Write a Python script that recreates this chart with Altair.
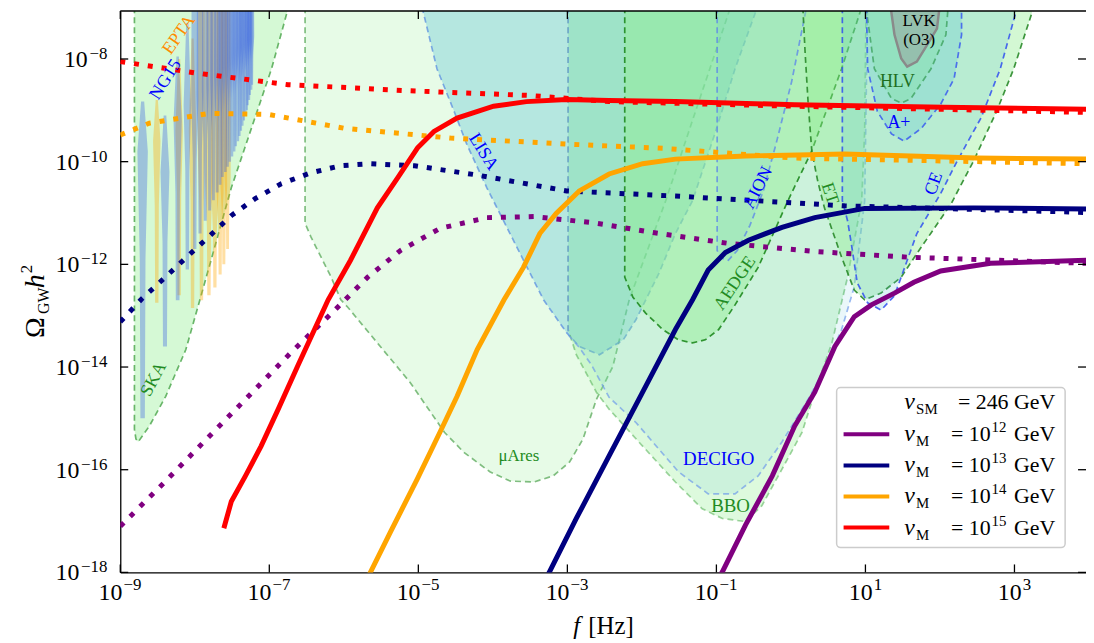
import altair as alt
import pandas as pd

FONT = "Liberation Serif"
X_LO, X_HI = -9.0, 3.96
Y_LO, Y_HI = -18.0, -7.066
W, H = 972, 565

x_tick_exps = [-9, -7, -5, -3, -1, 1, 3]
y_tick_exps = [-18, -16, -14, -12, -10, -8]

# ---------------- curves (log10 f, log10 Omega h^2) ----------------
red_solid_lf = [-7.61, -7.51, -7.32, -7.11, -6.88, -6.61, -6.21, -5.91, -5.55, -5.28, -5.01, -4.79, -4.48, -3.99, -3.55, -3.01, -2.44, -1.55, 0.05, 2.05, 3.97]
red_solid_lo = [-17.14, -16.62, -16.12, -15.54, -14.82, -13.95, -12.69, -11.92, -10.90, -10.32, -9.73, -9.41, -9.15, -8.92, -8.83, -8.79, -8.81, -8.83, -8.89, -8.94, -8.98]
red_dot_lf = [-9.0, -7.95, -6.75, -5.11, -3.51, -2.44, 0.05, 3.97]
red_dot_lo = [-8.05, -8.28, -8.50, -8.62, -8.71, -8.83, -8.92, -9.04]

orange_solid_lf = [-5.75, -5.64, -5.37, -5.01, -4.71, -4.48, -4.21, -3.85, -3.59, -3.37, -3.15, -2.84, -2.44, -1.99, -1.55, -0.61, 0.72, 2.49, 3.97]
orange_solid_lo = [-18.3, -17.99, -17.20, -16.17, -15.27, -14.57, -13.66, -12.69, -12.06, -11.40, -11.01, -10.57, -10.24, -10.04, -9.95, -9.89, -9.85, -9.93, -9.95]
orange_dot_lf = [-9.0, -8.61, -7.81, -7.01, -5.99, -4.57, -2.97, -1.72, 0.05, 3.97]
orange_dot_lo = [-9.48, -9.25, -9.06, -9.08, -9.35, -9.54, -9.66, -9.74, -9.93, -10.04]

navy_solid_lf = [-3.35, -3.24, -2.88, -2.44, -1.99, -1.55, -1.32, -1.11, -0.88, -0.57, -0.12, 0.32, 0.99, 2.45, 3.97]
navy_solid_lo = [-18.3, -17.99, -16.95, -15.73, -14.49, -13.27, -12.69, -12.11, -11.77, -11.53, -11.28, -11.09, -10.91, -10.90, -10.92]
navy_dot_lf = [-9.0, -8.71, -8.41, -8.11, -7.81, -7.51, -7.19, -6.84, -6.45, -6.05, -5.65, -5.05, -4.21, -3.01, -1.55, 0.72, 3.97]
navy_dot_lo = [-13.12, -12.67, -12.27, -11.86, -11.46, -11.05, -10.72, -10.43, -10.22, -10.08, -10.04, -10.08, -10.26, -10.57, -10.67, -10.86, -10.99]

purple_solid_lf = [-1.05, -0.92, -0.61, -0.25, 0.05, 0.32, 0.59, 0.85, 1.08, 1.39, 1.65, 2.01, 2.68, 3.97]
purple_solid_lo = [-18.3, -17.99, -17.08, -16.12, -15.15, -14.49, -13.60, -13.02, -12.79, -12.56, -12.35, -12.13, -11.98, -11.92]
purple_dot_lf = [-9.0, -8.41, -7.84, -7.28, -6.71, -6.12, -5.68, -5.24, -4.71, -4.08, -3.45, -2.65, -1.85, -0.85, 0.32, 1.56, 3.97]
purple_dot_lo = [-17.10, -16.25, -15.40, -14.57, -13.72, -12.89, -12.25, -11.73, -11.30, -11.09, -11.07, -11.19, -11.38, -11.59, -11.75, -11.86, -11.98]

# ---------------- sensitivity regions ----------------
ska_lf = [-8.81, -8.81, -8.79, -8.76, -8.61, -8.39, -8.12, -7.77, -7.51, -7.24, -6.97, -6.75, -6.70]
ska_lo = [-6.8, -15.21, -15.40, -15.46, -15.15, -14.57, -13.66, -11.86, -10.51, -9.35, -8.19, -7.03, -6.8]
mu_lf = [-6.52, -6.52, -6.44, -6.17, -6.04, -5.95, -5.55, -5.11, -4.65, -4.39, -4.04, -3.77, -3.45, -3.19, -2.97, -2.79, -2.61, -2.39, -2.17, -1.68, -1.28, -0.81, -0.76]
mu_lo = [-6.8, -11.20, -11.47, -12.25, -12.69, -12.83, -13.53, -14.30, -15.27, -15.66, -16.04, -16.22, -16.24, -16.12, -15.85, -15.40, -14.63, -13.99, -12.69, -10.76, -9.02, -6.99, -6.8]
lisa_lf = [-4.97, -4.95, -4.75, -4.52, -4.35, -4.08, -3.77, -3.32, -3.01, -2.84, -2.57, -2.25, -2.08, -1.77, -1.55, -1.32, -1.01, -0.75, -0.45, -0.42]
lisa_lo = [-6.8, -6.99, -8.19, -9.02, -9.66, -10.51, -11.40, -12.69, -13.33, -13.60, -13.76, -13.47, -13.08, -12.17, -11.40, -10.76, -9.41, -8.19, -6.99, -6.8]
bbo_lf = [-2.99, -2.99, -2.88, -2.61, -2.44, -1.99, -1.55, -1.19, -0.92, -0.61, -0.39, -0.12, 0.15, 0.32, 0.55, 0.76, 0.95, 0.99, 1.01]
bbo_lo = [-6.8, -13.27, -13.76, -14.49, -14.82, -15.54, -16.24, -16.76, -16.95, -17.01, -16.70, -15.99, -15.27, -14.49, -13.53, -12.25, -10.76, -9.41, -6.8]
decigo_lf = [-2.99, -2.99, -2.84, -2.68, -2.44, -2.08, -1.51, -1.11, -0.75, -0.44, -0.12, 0.23, 0.45, 0.68, 0.85, 0.99, 1.03]
decigo_lo = [-6.8, -13.37, -13.62, -13.95, -14.59, -15.08, -16.04, -16.47, -16.47, -16.12, -15.46, -14.63, -14.05, -13.27, -12.44, -10.76, -6.8]
aedge_lf = [-2.23, -2.23, -2.12, -1.95, -1.72, -1.51, -1.32, -1.15, -0.97, -0.75, -0.44, -0.04, 0.28, 0.68, 0.95, 0.97]
aedge_lo = [-6.8, -12.25, -12.64, -12.95, -13.27, -13.47, -13.53, -13.47, -13.27, -12.79, -12.06, -10.76, -9.79, -8.19, -6.99, -6.8]
aion_lf = [-0.99, -0.99, -0.93, -0.84, -0.72, -0.55, -0.37, -0.19, 0.01, 0.21, 0.23]
aion_lo = [-6.8, -11.73, -11.88, -11.92, -11.73, -11.24, -10.57, -9.60, -8.44, -6.99, -6.8]
et_lf = [0.16, 0.16, 0.19, 0.23, 0.28, 0.36, 0.45, 0.68, 0.85, 0.99, 1.21, 1.48, 1.69, 2.15, 2.45, 2.76, 2.99, 3.25, 3.27]
et_lo = [-6.8, -6.99, -7.86, -8.83, -9.79, -10.38, -10.90, -11.86, -12.50, -12.69, -12.56, -12.25, -11.79, -10.82, -9.99, -9.02, -8.19, -7.03, -6.8]
ce_lf = [0.69, 0.69, 0.76, 0.81, 0.89, 1.03, 1.21, 1.39, 1.69, 2.01, 2.23, 2.55, 2.81, 3.03, 3.05]
ce_lo = [-6.8, -10.76, -11.15, -11.59, -12.36, -12.75, -12.89, -12.61, -11.40, -10.62, -9.99, -9.15, -8.19, -7.03, -6.8]
aplus_lf = [1.01, 1.03, 1.16, 1.35, 1.52, 1.75, 2.01, 2.19, 2.29, 2.29]
aplus_lo = [-6.8, -8.19, -9.02, -9.46, -9.60, -9.35, -8.88, -8.38, -7.53, -6.8]
hlv_lf = [0.99, 1.12, 1.35, 1.48, 1.61, 1.88, 2.08, 2.12]
hlv_lo = [-6.8, -8.19, -8.77, -8.86, -8.77, -8.19, -7.53, -6.8]
lvk_lf = [1.32, 1.39, 1.48, 1.56, 1.69, 1.83, 1.96, 2.01]
lvk_lo = [-6.8, -7.53, -7.99, -8.15, -8.05, -7.72, -7.41, -6.8]

# ---------------- PTA violins ----------------
ng_lf = [-8.70, -8.40, -8.23, -8.10, -8.00, -7.93, -7.86, -7.80, -7.75, -7.70, -7.66, -7.63, -7.59, -7.56, -7.53,
         -7.50, -7.47, -7.45, -7.42, -7.40, -7.38, -7.36, -7.34, -7.32, -7.30, -7.29, -7.27, -7.26, -7.24, -7.23]
ng_top = [-8.83, -9.10, -7.95, -7.30, -6.8, -6.8, -6.8, -6.8, -6.8, -6.8, -6.8, -6.8, -6.8, -6.8, -6.8,
          -6.8, -6.8, -6.8, -6.8, -6.8, -6.8, -6.8, -6.8, -6.8, -6.8, -6.8, -6.8, -6.8, -6.8, -6.8]
ng_peak = [-9.80, -10.20, -9.20, -8.90, -8.80, -8.70, -8.60, -8.50, -8.40, -8.30, -8.25, -8.20, -8.15, -8.10, -8.05,
           -8.00, -7.95, -7.90, -7.85, -7.80, -7.80, -7.75, -7.75, -7.70, -7.70, -7.65, -7.65, -7.60, -7.60, -7.55]
ng_bot = [-15.0, -13.6, -12.7, -12.1, -11.7, -11.4, -11.15, -10.95, -10.75, -10.6, -10.45, -10.3, -10.2, -10.1, -10.0,
          -9.9, -9.8, -9.7, -9.6, -9.5, -9.4, -9.3, -9.2, -9.1, -9.0, -8.9, -8.8, -8.7, -8.6, -8.5]
ng_w = [0.07, 0.06, 0.055, 0.05, 0.048, 0.046, 0.045, 0.044, 0.043, 0.042, 0.041, 0.04, 0.039, 0.038, 0.037,
        0.036, 0.035, 0.034, 0.034, 0.033, 0.032, 0.032, 0.031, 0.031, 0.03, 0.03, 0.029, 0.029, 0.028, 0.028]

ep_lf = [-8.51, -8.21, -8.03, -7.91, -7.81, -7.73, -7.66, -7.61, -7.56]
ep_top = [-8.80, -8.00, -7.60, -6.8, -6.8, -6.8, -6.8, -6.8, -6.8]
ep_peak = [-9.60, -9.40, -9.40, -9.80, -10.40, -10.60, -10.60, -10.50, -10.30]
ep_bot = [-12.75, -12.60, -12.85, -12.70, -12.60, -12.45, -12.20, -12.00, -11.70]
ep_w = [0.05, 0.05, 0.05, 0.05, 0.05, 0.048, 0.046, 0.044, 0.042]

# ---------------- legend ----------------
leg_colors = ["#800080", "#000080", "#FFA500", "#FF0000"]
leg_exps = ["12", "13", "14", "15"]

# ==========================================================================
xscale = alt.Scale(type="log", domain=[10 ** X_LO, 10 ** X_HI], nice=False)
yscale = alt.Scale(type="log", domain=[10 ** Y_LO, 10 ** Y_HI], nice=False)
xaxis = alt.Axis(values=[10.0 ** e for e in x_tick_exps], labels=False, ticks=False, grid=False,
                 domainColor="black", domainWidth=1.3, title=None)
yaxis = alt.Axis(values=[10.0 ** e for e in y_tick_exps], labels=False, ticks=False, grid=False,
                 domainColor="black", domainWidth=1.3, title=None)


def X(field="f"):
    return alt.X(field + ":Q", scale=xscale, axis=xaxis)


def Y(field="o"):
    return alt.Y(field + ":Q", scale=yscale, axis=yaxis)


def pts_df(lf, lo):
    return pd.DataFrame({"i": list(range(len(lf))), "f": [10 ** v for v in lf], "o": [10 ** v for v in lo]})


layers = []

G = "#90EE90"
B = "#50BED2"
regions = [
    (ska_lf, ska_lo, G, 0.38, "#3E9E3E", 0.75),
    (mu_lf, mu_lo, G, 0.22, "#4FA34F", 0.7),
    (lisa_lf, lisa_lo, B, 0.33, "#5B8FE0", 0.75),
    (bbo_lf, bbo_lo, G, 0.3, "#5DB55D", 0.6),
    (decigo_lf, decigo_lo, B, 0.12, "#6F9BEA", 0.7),
    (aedge_lf, aedge_lo, G, 0.45, "#1F8A1F", 0.9),
    (aion_lf, aion_lo, B, 0.12, "#5F8AE8", 0.8),
    (et_lf, et_lo, G, 0.4, "#2A8A2A", 0.9),
    (ce_lf, ce_lo, B, 0.2, "#3050F0", 0.85),
    (hlv_lf, hlv_lo, G, 0.35, "#3A9A3A", 0.8),
    (aplus_lf, aplus_lo, B, 0.25, "#3A5CF0", 0.85),
]
for lf, lo, fc, fa, sc, so in regions:
    layers.append(alt.Chart(pts_df(lf, lo)).mark_line(
        fill=fc, fillOpacity=fa, stroke=sc, strokeOpacity=so, strokeWidth=1.7, strokeDash=[6, 4], clip=True
    ).encode(x=X(), y=Y(), order="i:Q"))

layers.append(alt.Chart(pts_df(lvk_lf, lvk_lo)).mark_line(
    fill="#999999", fillOpacity=0.45, stroke="#8a8a8a", strokeWidth=2.5, clip=True
).encode(x=X(), y=Y(), order="i:Q"))


def violin_df(lfs, tops, peaks, bots, ws):
    rows = []
    for v, (c, t, p, b, w) in enumerate(zip(lfs, tops, peaks, bots, ws)):
        wb = min(0.03, 0.45 * w)
        wt = 0.9 * w if t > Y_HI else 0.3 * w
        mid = p - 0.4 * (p - b)
        shape = [(c - wb, b), (c - 0.55 * w, mid), (c - w, p), (c - wt, t),
                 (c + wt, t), (c + w, p), (c + 0.55 * w, mid), (c + wb, b)]
        for i, (x, y) in enumerate(shape):
            rows.append({"v": v, "i": i, "f": 10 ** x, "o": 10 ** y})
    return pd.DataFrame(rows)


layers.append(alt.Chart(violin_df(ep_lf, ep_top, ep_peak, ep_bot, ep_w)).mark_line(
    fill="#FFA500", fillOpacity=0.36, strokeOpacity=0, clip=True
).encode(x=X(), y=Y(), order="i:Q", detail="v:N"))
layers.append(alt.Chart(violin_df(ng_lf, ng_top, ng_peak, ng_bot, ng_w)).mark_line(
    fill="#4169E1", fillOpacity=0.38, strokeOpacity=0, clip=True
).encode(x=X(), y=Y(), order="i:Q", detail="v:N"))

# curves
curves = [
    (purple_dot_lf, purple_dot_lo, "#800080", True),
    (navy_dot_lf, navy_dot_lo, "#000080", True),
    (orange_dot_lf, orange_dot_lo, "#FFA500", True),
    (red_dot_lf, red_dot_lo, "#FF0000", True),
    (purple_solid_lf, purple_solid_lo, "#800080", False),
    (navy_solid_lf, navy_solid_lo, "#000080", False),
    (orange_solid_lf, orange_solid_lo, "#FFA500", False),
    (red_solid_lf, red_solid_lo, "#FF0000", False),
]
for lf, lo, c, dotted in curves:
    if dotted:
        mk = alt.Chart(pts_df(lf, lo)).mark_line(color=c, strokeWidth=5, strokeDash=[5, 9], strokeCap="butt", clip=True)
    else:
        mk = alt.Chart(pts_df(lf, lo)).mark_line(color=c, strokeWidth=5, clip=True)
    layers.append(mk.encode(x=X(), y=Y(), order="i:Q"))

# region labels
BLUE, GREEN = "#0000FF", "#228B22"
labels = [
    ("SKA", -8.55, -14.24, 298, GREEN, 18),
    ("NG15", -8.39, -8.40, 302, BLUE, 18),
    ("EPTA", -8.21, -7.53, 305, "#FF8C00", 18),
    ("LISA", -4.13, -9.81, 58, BLUE, 18),
    ("μAres", -3.65, -15.73, 0, GREEN, 17),
    ("DECIGO", -0.97, -15.79, 0, BLUE, 19),
    ("BBO", -0.81, -16.70, 0, GREEN, 19),
    ("AEDGE", -0.75, -12.37, 304, GREEN, 18),
    ("AION", -0.44, -10.51, 297, BLUE, 18),
    ("ET", 0.52, -10.62, 72, GREEN, 18),
    ("CE", 1.92, -10.43, 290, BLUE, 18),
    ("A+", 1.45, -9.25, 0, BLUE, 18),
    ("HLV", 1.43, -8.44, 0, "#1E6E1E", 18),
    ("LVK", 1.72, -7.27, 0, "black", 17),
    ("(O3)", 1.72, -7.63, 0, "black", 17),
]
for t, lf, lo, ang, c, s in labels:
    kw = dict(font=FONT, fontSize=s, color=c, align="center", baseline="middle")
    if ang:
        kw["angle"] = ang
    layers.append(alt.Chart(pd.DataFrame({"f": [10 ** lf], "o": [10 ** lo], "t": [t]})).mark_text(**kw)
                  .encode(x=X(), y=Y(), text="t:N"))

# tick labels as "10" + raised exponent
BASE_FS, EXP_FS = 24, 17


def exp_text(e):
    return str(e).replace("-", "−")


def exp_width(e):
    return sum(0.6 * EXP_FS if ch == "−" else 0.5 * EXP_FS for ch in exp_text(e))


for e in x_tick_exps:
    d = pd.DataFrame({"f": [10.0 ** e]})
    we = exp_width(e)
    w10 = BASE_FS
    start = -(w10 + 1 + we) / 2
    layers.append(alt.Chart(d).mark_text(text="10", font=FONT, fontSize=BASE_FS, align="left",
                                         baseline="alphabetic", dx=start, color="black")
                  .encode(x=X(), y=alt.value(H + 28)))
    layers.append(alt.Chart(d).mark_text(text=exp_text(e), font=FONT, fontSize=EXP_FS, align="left",
                                         baseline="alphabetic", dx=start + w10 + 1, color="black")
                  .encode(x=X(), y=alt.value(H + 18)))

for e in y_tick_exps:
    d = pd.DataFrame({"o": [10.0 ** e]})
    we = exp_width(e)
    layers.append(alt.Chart(d).mark_text(text=exp_text(e), font=FONT, fontSize=EXP_FS, align="right",
                                         baseline="alphabetic", dy=0, color="black")
                  .encode(y=Y(), x=alt.value(-13)))
    layers.append(alt.Chart(d).mark_text(text="10", font=FONT, fontSize=BASE_FS, align="right",
                                         baseline="alphabetic", dy=8, color="black")
                  .encode(y=Y(), x=alt.value(-14 - we)))

# inner ticks
xt = pd.DataFrame({"f": [10.0 ** e for e in x_tick_exps]})
yt = pd.DataFrame({"o": [10.0 ** e for e in y_tick_exps]})
layers.append(alt.Chart(xt).mark_rule(color="black", strokeWidth=1.3).encode(x=X(), y=alt.value(H - 8), y2=alt.value(H)))
layers.append(alt.Chart(xt).mark_rule(color="black", strokeWidth=1.3).encode(x=X(), y=alt.value(0), y2=alt.value(8)))
layers.append(alt.Chart(yt).mark_rule(color="black", strokeWidth=1.3).encode(y=Y(), x=alt.value(0), x2=alt.value(8)))
layers.append(alt.Chart(yt).mark_rule(color="black", strokeWidth=1.3).encode(y=Y(), x=alt.value(W - 8), x2=alt.value(W)))
one = pd.DataFrame({"a": [0]})
layers.append(alt.Chart(one).mark_rule(color="black", strokeWidth=1.5).encode(
    x=alt.value(0), x2=alt.value(W), y=alt.value(0)))


def txt(text, x, y, size, angle=0, style="normal", align="left", baseline="alphabetic", color="black"):
    kw = dict(text=text, font=FONT, fontSize=size, fontStyle=style, align=align, baseline=baseline, color=color)
    if angle:
        kw["angle"] = angle
    return alt.Chart(one).mark_text(**kw).encode(x=alt.value(x), y=alt.value(y))


# axis titles
layers += [
    txt("Ω", -77, 329, 28, angle=270),
    txt("GW", -72, 305, 16, angle=270),
    txt("h", -77, 279, 28, angle=270, style="italic"),
    txt("2", -89, 264, 17, angle=270),
    txt("f", 456, 627, 25, style="italic"),
    txt("[Hz]", 471, 627, 25),
]

# legend
layers.append(alt.Chart(one).mark_rect(fill="white", fillOpacity=0.85, stroke="#cccccc", strokeWidth=1.5,
                                       cornerRadius=4).encode(
    x=alt.value(721), x2=alt.value(951), y=alt.value(379), y2=alt.value(540)))
layers += [
    txt("v", 789, 401, 24, style="italic"),
    txt("SM", 801, 406, 15),
    txt("= 246 GeV", 941, 401, 22, align="right"),
]
for k, (c, ex) in enumerate(zip(leg_colors, leg_exps)):
    yb = 433 + 31.3 * k
    layers.append(alt.Chart(one).mark_rule(color=c, strokeWidth=4).encode(
        x=alt.value(728), x2=alt.value(774), y=alt.value(yb - 7)))
    layers += [
        txt("v", 789, yb, 24, style="italic"),
        txt("M", 801, yb + 5, 15),
        txt("= 10", 876, yb, 22, align="right"),
        txt(ex, 877, yb - 9, 15),
        txt("GeV", 941, yb, 22, align="right"),
    ]

chart = alt.layer(*layers).properties(
    width=W, height=H,
    autosize=alt.AutoSizeParams(type="none"),
    padding={"left": 113, "top": 1, "right": 0, "bottom": 68},
    background="white",
).configure_view(stroke=None)

chart.save("out.html", embed_options={"renderer": "svg", "actions": False})
